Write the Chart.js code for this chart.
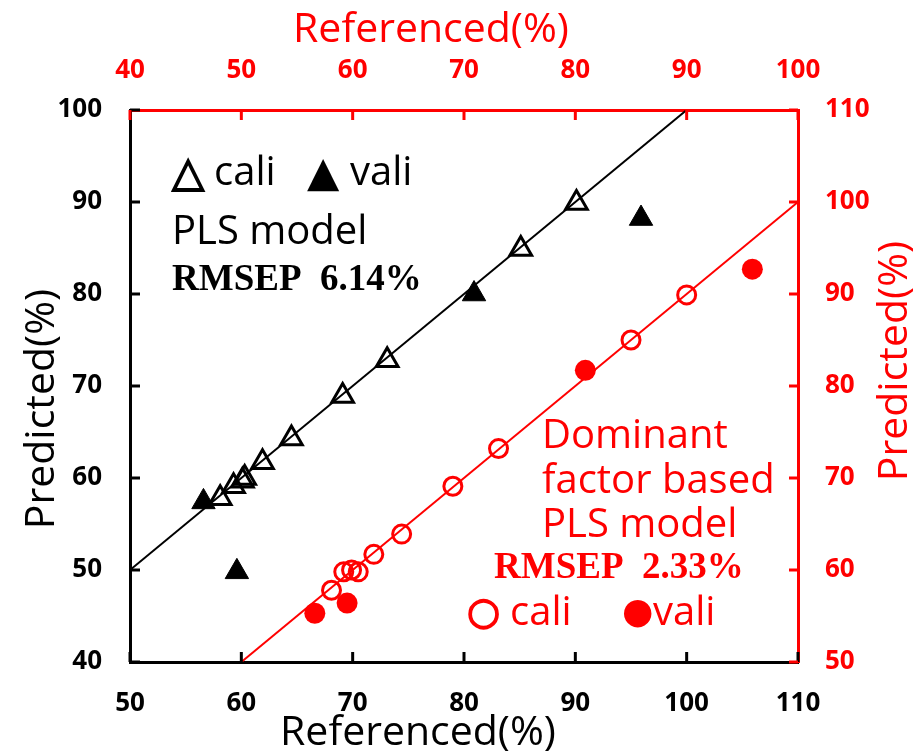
<!DOCTYPE html>
<html>
<head>
<meta charset="utf-8">
<style>
  html, body { margin: 0; padding: 0; background: #fff; }
  #wrap { width: 915px; height: 751px; }
</style>
<script src="https://cdn.jsdelivr.net/npm/chart.js@4/dist/chart.umd.min.js"></script>
</head>
<body>
<div id="wrap"><canvas id="c" width="915" height="751"></canvas></div>
<script>
// ---- data ----
// PLS model (bottom / left axes)
const plsCaliRef  = [90.1, 85.1, 73.1, 69.1, 64.5, 61.9, 60.3, 60.1, 59.3, 58.1];
const plsCaliPred = [89.9, 84.9, 72.8, 68.9, 64.3, 61.7, 60.0, 59.7, 59.1, 57.8];
const plsValiRef  = [56.6, 59.6, 80.9, 95.9];
const plsValiPred = [57.4, 49.8, 80.0, 88.2];
// Dominant factor based PLS model (top / right axes)
const dfCaliRef  = [90.0, 85.0, 73.1, 69.0, 64.4, 61.9, 60.5, 59.9, 59.2, 58.1];
const dfCaliPred = [89.9, 85.0, 73.2, 69.1, 63.9, 61.7, 59.8, 60.0, 59.8, 57.8];
const dfValiRef  = [56.6, 59.5, 80.9, 95.9];
const dfValiPred = [55.3, 56.4, 81.7, 92.7];
// 1:1 lines
const plsLine = [50, 100];
const dfLine  = [50, 100];
// axis ranges / ticks
const bottomTicks = [50, 110, 10];
const leftTicks   = [40, 100, 10];
const topTicks    = [40, 100, 10];
const rightTicks  = [50, 110, 10];

const pts = (xs, ys) => xs.map((v, i) => ({ x: v, y: ys[i] }));

const RED = '#ff0000';
const BLACK = '#000000';
const TICK_FONT = { family: "'Open Sans', 'Noto Sans', sans-serif", size: 26, weight: 'bold' };
const TXT = "'Open Sans', 'Noto Sans', 'DejaVu Sans', sans-serif";

const innerTicks = {
  id: 'innerTicks',
  afterDatasetsDraw(chart) {
    const ctx = chart.ctx, a = chart.chartArea;
    ctx.save();
    ctx.lineWidth = 3;
    const sx = chart.scales.x, sy = chart.scales.y, sx2 = chart.scales.x2, sy2 = chart.scales.y2;
    ctx.strokeStyle = BLACK;
    sx.ticks.forEach(t => { const p = sx.getPixelForValue(t.value); ctx.beginPath(); ctx.moveTo(p, a.bottom); ctx.lineTo(p, a.bottom - 10); ctx.stroke(); });
    sy.ticks.forEach(t => { const p = sy.getPixelForValue(t.value); ctx.beginPath(); ctx.moveTo(a.left, p); ctx.lineTo(a.left + 10, p); ctx.stroke(); });
    ctx.strokeStyle = RED;
    sx2.ticks.forEach(t => { const p = sx2.getPixelForValue(t.value); ctx.beginPath(); ctx.moveTo(p, a.top); ctx.lineTo(p, a.top + 10); ctx.stroke(); });
    sy2.ticks.forEach(t => { const p = sy2.getPixelForValue(t.value); ctx.beginPath(); ctx.moveTo(a.right, p); ctx.lineTo(a.right - 9, p); ctx.stroke(); });
    ctx.restore();
  }
};

const texts = {
  id: 'texts',
  afterDraw(chart) {
    const ctx = chart.ctx;
    ctx.save();
    ctx.textBaseline = 'alphabetic';
    ctx.textAlign = 'left';
    // axis titles
    ctx.font = `41px ${TXT}`;
    ctx.fillStyle = BLACK;
    ctx.textAlign = 'center';
    ctx.fillText('Referenced(%)', 418, 745);
    ctx.fillStyle = RED;
    ctx.fillText('Referenced(%)', 431, 42);
    ctx.save();
    ctx.translate(42, 409); ctx.rotate(-Math.PI / 2);
    ctx.textBaseline = 'middle';
    ctx.fillStyle = BLACK; ctx.fillText('Predicted(%)', 0, 0);
    ctx.restore();
    ctx.save();
    ctx.translate(895, 361); ctx.rotate(-Math.PI / 2);
    ctx.textBaseline = 'middle';
    ctx.fillStyle = RED; ctx.fillText('Predicted(%)', 0, 0);
    ctx.restore();

    ctx.textAlign = 'left';
    // PLS model annotation
    ctx.fillStyle = BLACK;
    ctx.strokeStyle = BLACK;
    ctx.lineWidth = 1.6;
    ctx.font = `42px ${TXT}`;
    ctx.fillText('\u25B3', 172, 186);
    ctx.strokeText('\u25B3', 172, 186);
    ctx.fillText('\u25B2', 307, 186);
    ctx.font = `40px ${TXT}`;
    ctx.fillText('cali', 214, 185);
    ctx.fillText('vali', 350, 185);
    ctx.fillText('PLS model', 172, 244);
    ctx.font = `bold 37px 'Liberation Serif', 'Times New Roman', serif`;
    ctx.fillText('RMSEP  6.14%', 172, 290);

    // Dominant factor annotation
    ctx.fillStyle = RED;
    ctx.strokeStyle = RED;
    ctx.font = `40px ${TXT}`;
    ctx.fillText('Dominant', 542, 448);
    ctx.fillText('factor based', 542, 493);
    ctx.fillText('PLS model', 542, 537);
    ctx.font = `bold 37px 'Liberation Serif', 'Times New Roman', serif`;
    ctx.fillText('RMSEP  2.33%', 494, 578);
    ctx.font = `38px ${TXT}`;
    ctx.lineWidth = 1.6;
    ctx.fillText('\u25CB', 467, 624);
    ctx.strokeText('\u25CB', 467, 624);
    ctx.font = `36px ${TXT}`;
    ctx.fillText('\u25CF', 622, 623);
    ctx.font = `40px ${TXT}`;
    ctx.fillText('cali', 510, 625);
    ctx.fillText('vali', 653, 625);
    ctx.restore();
  }
};

new Chart(document.getElementById('c'), {
  data: {
    datasets: [
      { type: 'line', data: pts(plsLine, plsLine), xAxisID: 'x', yAxisID: 'y',
        borderColor: BLACK, borderWidth: 2, pointRadius: 0, fill: false, order: 5 },
      { type: 'line', data: pts(dfLine, dfLine), xAxisID: 'x2', yAxisID: 'y2',
        borderColor: RED, borderWidth: 2, pointRadius: 0, fill: false, order: 5 },
      { type: 'scatter', data: pts(plsCaliRef, plsCaliPred), xAxisID: 'x', yAxisID: 'y',
        pointStyle: 'triangle', pointRadius: 12.5, borderWidth: 3, borderColor: BLACK,
        backgroundColor: 'rgba(0,0,0,0)', order: 1 },
      { type: 'scatter', data: pts(plsValiRef, plsValiPred), xAxisID: 'x', yAxisID: 'y',
        pointStyle: 'triangle', pointRadius: 13.5, borderWidth: 1, borderColor: BLACK,
        backgroundColor: BLACK, order: 1 },
      { type: 'scatter', data: pts(dfCaliRef, dfCaliPred), xAxisID: 'x2', yAxisID: 'y2',
        pointStyle: 'circle', pointRadius: 9, borderWidth: 3, borderColor: RED,
        backgroundColor: 'rgba(0,0,0,0)', order: 1 },
      { type: 'scatter', data: pts(dfValiRef, dfValiPred), xAxisID: 'x2', yAxisID: 'y2',
        pointStyle: 'circle', pointRadius: 10.5, borderWidth: 0, borderColor: RED,
        backgroundColor: RED, order: 1 }
    ]
  },
  options: {
    responsive: false,
    animation: false,
    devicePixelRatio: 1,
    layout: { padding: 0 },
    plugins: { legend: { display: false }, tooltip: { enabled: false }, title: { display: false } },
    scales: {
      x: {
        type: 'linear', position: 'bottom', min: bottomTicks[0], max: bottomTicks[1],
        ticks: { stepSize: bottomTicks[2], color: BLACK, font: TICK_FONT, padding: 26, maxRotation: 0 },
        grid: { display: false, drawTicks: false, tickLength: 0 },
        border: { display: true, color: BLACK, width: 3 },
        afterFit(s) { s.height = 89; }
      },
      x2: {
        type: 'linear', position: 'top', min: topTicks[0], max: topTicks[1],
        ticks: { stepSize: topTicks[2], color: RED, font: TICK_FONT, padding: 24, maxRotation: 0 },
        grid: { display: false, drawTicks: false, tickLength: 0 },
        border: { display: true, color: RED, width: 3 },
        afterFit(s) { s.height = 110; }
      },
      y: {
        type: 'linear', position: 'left', min: leftTicks[0], max: leftTicks[1],
        ticks: { stepSize: leftTicks[2], color: BLACK, font: TICK_FONT, padding: 28 },
        grid: { display: false, drawTicks: false, tickLength: 0 },
        border: { display: true, color: BLACK, width: 3 },
        afterFit(s) { s.width = 130; }
      },
      y2: {
        type: 'linear', position: 'right', min: rightTicks[0], max: rightTicks[1],
        ticks: { stepSize: rightTicks[2], color: RED, font: TICK_FONT, padding: 27 },
        grid: { display: false, drawTicks: false, tickLength: 0 },
        border: { display: true, color: RED, width: 3 },
        afterFit(s) { s.width = 117; }
      }
    }
  },
  plugins: [innerTicks, texts]
});
</script>
</body>
</html>
